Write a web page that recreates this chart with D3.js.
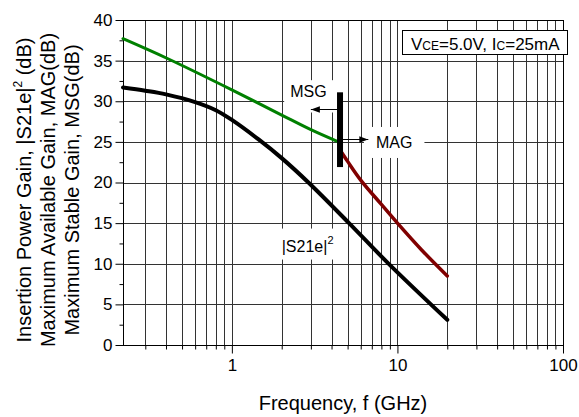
<!DOCTYPE html>
<html>
<head>
<meta charset="utf-8">
<script src="https://cdn.jsdelivr.net/npm/d3@7/dist/d3.min.js"></script>
<style>
  body { margin: 0; background: #fff; }
  svg text { font-family: "Liberation Sans", Arial, sans-serif; fill: #000; }
</style>
</head>
<body>
<div id="chart"></div>
<script>
// gain vs frequency
const s21Freq = [0.22, 0.3, 0.4, 0.6, 0.8, 1, 1.45, 2, 2.9, 5.1, 8.8, 20];
const s21Gain = [31.7, 31.3, 30.85, 29.9, 28.9, 27.7, 25.3, 23.0, 20.0, 15.0, 10.05, 3.1];

const msgFreq = [0.22, 0.414, 1, 2, 3, 4.4];
const msgGain = [37.7, 35.2, 31.4, 28.3, 26.5, 25.0];

const magFreq = [4.5, 5, 6, 8, 10, 14, 20];
const magGain = [24.0, 22.6, 20.3, 17.3, 15.0, 11.7, 8.5];

const xTickLabels = [1, 10, 100];
const yTicks = [0, 5, 10, 15, 20, 25, 30, 35, 40];
const yMinorTicks = [2.5, 7.5, 12.5, 17.5, 22.5, 27.5, 32.5, 37.5];

// MSG / MAG boundary marker
const splitFreq = 4.5;
const splitRange = [21.9, 31.1];

const W = 579, H = 417;
const plot = { left: 123, right: 563, top: 20, bottom: 345 };

const x = d3.scaleLog().domain([0.22, 100]).range([plot.left, plot.right]);
const y = d3.scaleLinear().domain([0, 40]).range([plot.bottom, plot.top]);

// grid positions: every 1..9 inside each decade
const xGrid = [];
[0.1, 1, 10].forEach(dec => {
    d3.range(1, 10).forEach(m => {
        const v = +(dec * m).toPrecision(3);
        if (v > 0.22 && v < 100) xGrid.push(v);
    });
});
const xMinor = xGrid.filter(v => xTickLabels.indexOf(v) < 0);

const svg = d3.select("#chart").append("svg")
    .attr("width", W).attr("height", H);

const px = v => Math.round(v) + 0.5;

// grid
const grid = svg.append("g").attr("stroke", "#333").attr("stroke-width", 1);
grid.selectAll("line.gx").data(xGrid).enter().append("line").attr("class", "gx")
    .attr("x1", d => px(x(d))).attr("x2", d => px(x(d)))
    .attr("y1", plot.top).attr("y2", plot.bottom);
grid.selectAll("line.gy").data(yTicks.slice(1, -1)).enter().append("line").attr("class", "gy")
    .attr("y1", d => px(y(d))).attr("y2", d => px(y(d)))
    .attr("x1", plot.left).attr("x2", plot.right);

// axes
const fontSize = 17;
svg.append("g").attr("transform", `translate(0,${px(plot.bottom)})`)
    .call(d3.axisBottom(x).tickValues(xTickLabels).tickSize(8).tickPadding(5)
        .tickFormat(d3.format("d")));
svg.append("g").attr("transform", `translate(0,${px(plot.bottom)})`)
    .call(d3.axisBottom(x).tickValues(xMinor).tickSize(4).tickFormat(""));

svg.append("g").attr("transform", `translate(${px(plot.left)},0)`)
    .call(d3.axisLeft(y).tickValues(yTicks).tickSize(8).tickPadding(3));
svg.append("g").attr("transform", `translate(${px(plot.left)},0)`)
    .call(d3.axisLeft(y).tickValues(yMinorTicks).tickSize(4).tickFormat(""));

svg.selectAll(".domain").remove();
svg.selectAll(".tick line").attr("stroke", "#000");
svg.selectAll(".tick text")
    .attr("font-family", '"Liberation Sans", Arial, sans-serif')
    .attr("font-size", fontSize).attr("fill", "#000");

// frame
svg.append("rect")
    .attr("x", px(plot.left)).attr("y", px(plot.top))
    .attr("width", Math.round(plot.right - plot.left)).attr("height", Math.round(plot.bottom - plot.top))
    .attr("fill", "none").attr("stroke", "#000").attr("stroke-width", 1);

// white backing for the labels sits under the curves, text on top
const boxLayer = svg.append("g");
const curveLayer = svg.append("g");
const textLayer = svg.append("g");

const defs = svg.append("defs");
defs.append("marker").attr("id", "head")
    .attr("viewBox", "0 0 10 10").attr("refX", 10).attr("refY", 5)
    .attr("markerWidth", 9).attr("markerHeight", 9).attr("markerUnits", "userSpaceOnUse")
    .attr("orient", "auto")
    .append("path").attr("d", "M0,1.5 L10,5 L0,8.5 Z").attr("fill", "#000");

// curves
const line = d3.line().curve(d3.curveCatmullRom.alpha(0.5))
    .x(d => x(d[0])).y(d => y(d[1]));

const curves = [
    { f: msgFreq, g: msgGain, color: "#008000", w: 3 },
    { f: magFreq, g: magGain, color: "#800000", w: 3.5 },
    { f: s21Freq, g: s21Gain, color: "#000000", w: 4 }
];
curves.forEach(c => {
    curveLayer.append("path")
        .datum(d3.zip(c.f, c.g))
        .attr("d", line)
        .attr("fill", "none")
        .attr("stroke", c.color)
        .attr("stroke-width", c.w)
        .attr("stroke-linecap", "round")
        .attr("stroke-linejoin", "round");
});

// boundary bar
const barW = 6;
curveLayer.append("rect")
    .attr("x", x(splitFreq) - barW / 2).attr("width", barW)
    .attr("y", y(splitRange[1])).attr("height", y(splitRange[0]) - y(splitRange[1]))
    .attr("fill", "#000");

function addLabel(parts, fx, fy, arrow) {
    const g = textLayer.append("g");
    const t = g.append("text").attr("x", x(fx)).attr("y", y(fy)).attr("font-size", 16);
    parts.forEach(p => {
        const s = t.append("tspan").text(p.text);
        if (p.sup) s.attr("font-size", 11).attr("dy", -8);
    });
    if (arrow) {
        g.append("line")
            .attr("x1", arrow.from).attr("x2", x(arrow.to))
            .attr("y1", px(y(arrow.at))).attr("y2", px(y(arrow.at)))
            .attr("stroke", "#000").attr("stroke-width", 1)
            .attr("marker-end", "url(#head)");
    }
    return g;
}

const msg = addLabel([{ text: "MSG" }], 2.25, 30.5,
    { from: x(splitFreq) - barW / 2, to: 3.0, at: 29.0 });
const mag = addLabel([{ text: "MAG" }], 7.42, 24.25,
    { from: x(splitFreq) + barW / 2, to: 6.67, at: 25.4 });
const s21 = addLabel([{ text: "|S21e|" }, { text: "2", sup: true }], 2.0, 11.5);

function backing(g, padX, padY, onlyText) {
    const b = (onlyText ? g.select("text") : g).node().getBBox();
    boxLayer.append("rect")
        .attr("x", b.x - padX).attr("y", b.y - padY)
        .attr("width", b.width + 2 * padX).attr("height", b.height + 2 * padY)
        .attr("fill", "#fff");
}
backing(msg, 6, 3, false);
backing(mag, 12, 7, true);
backing(s21, 5, 5, true);

// condition box
const cond = svg.append("g");
cond.append("rect")
    .attr("x", 402.5).attr("y", 30.5).attr("width", 165).attr("height", 24)
    .attr("fill", "#fff").attr("stroke", "#000").attr("stroke-width", 1);
const ct = cond.append("text").attr("x", 411).attr("y", 50).attr("font-size", 17);
ct.append("tspan").text("V");
ct.append("tspan").text("CE").attr("font-size", 12);
ct.append("tspan").text("=5.0V, I");
ct.append("tspan").text("C").attr("font-size", 12);
ct.append("tspan").text("=25mA");

// axis titles
svg.append("text")
    .attr("x", (plot.left + plot.right) / 2).attr("y", 410)
    .attr("text-anchor", "middle").attr("font-size", 20)
    .text("Frequency, f (GHz)");

const yTitle = svg.append("g").attr("transform", "translate(0,190) rotate(-90)");
const t1 = yTitle.append("text").attr("x", 0).attr("y", 31).attr("text-anchor", "middle").attr("font-size", 20);
t1.append("tspan").text("Insertion Power Gain, |S21e|");
t1.append("tspan").text("2").attr("font-size", 12).attr("dy", -9);
t1.append("tspan").text(" (dB)").attr("dy", 9);
yTitle.append("text").attr("x", 0).attr("y", 55).attr("text-anchor", "middle").attr("font-size", 20)
    .text("Maximum Available Gain, MAG(dB)");
yTitle.append("text").attr("x", 0).attr("y", 79).attr("text-anchor", "middle").attr("font-size", 20)
    .text("Maximum Stable Gain, MSG(dB)");
</script>
</body>
</html>
